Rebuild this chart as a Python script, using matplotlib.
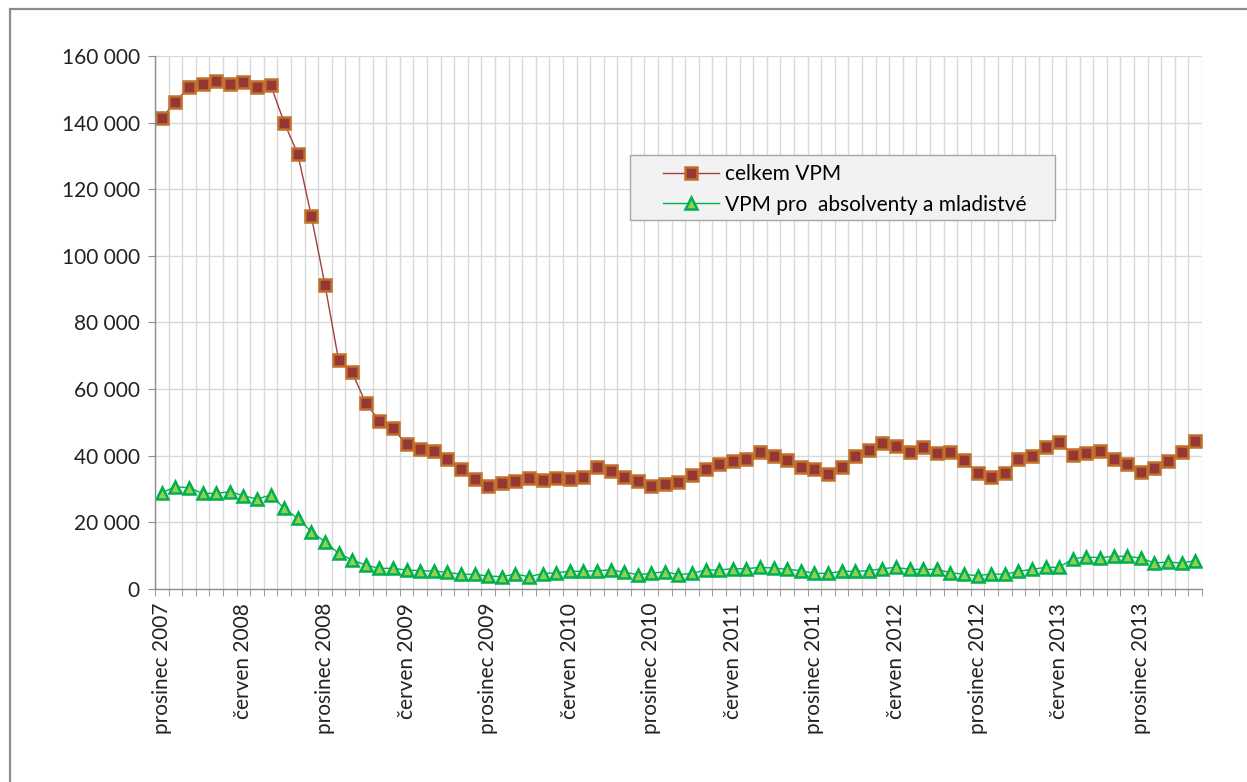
import numpy as np
import matplotlib.pyplot as plt
from matplotlib.patches import Rectangle

# ==========================================
# DATA (monthly, prosinec 2007 - duben 2014)
# ==========================================

months = ["leden", "únor", "březen", "duben", "květen", "červen",
          "červenec", "srpen", "září", "říjen", "listopad", "prosinec"]

celkem_vpm = [
    141300, 146300, 150600, 151700, 152600, 151700, 152100, 150600, 151400,
    140000, 130600, 111900, 91300, 68700, 65000, 55800, 50500, 48200,
    43400, 42000, 41400, 39100, 36000, 32900, 30900, 31700, 32300,
    33300, 32800, 33300, 32900, 33700, 36700, 35300, 33700, 32500,
    31000, 31400, 32200, 34100, 36100, 37500, 38500, 39100, 41100,
    39900, 38700, 36700, 35900, 34400, 36700, 39900, 41700, 43700,
    43000, 41000, 42500, 40900, 41000, 38700, 34700, 33500, 34900,
    39000, 39900, 42500, 44000, 40100, 40700, 41400, 39000, 37500,
    35200, 36400, 38400, 41000, 44400
]

absolventi_vpm = [
    28900, 30700, 30400, 28700, 28700, 29200, 28000, 27000, 28200,
    24200, 21200, 17200, 14200, 10700, 8700, 7200, 6200, 6200,
    5700, 5500, 5400, 5000, 4400, 4400, 3900, 3700, 4500,
    3700, 4600, 4900, 5300, 5300, 5500, 5700, 5100, 4300,
    4700, 5200, 4300, 4700, 5700, 5700, 6100, 6100, 6500,
    6300, 5900, 5500, 4700, 4700, 5300, 5300, 5500, 6100,
    6500, 5900, 5900, 5900, 4900, 4400, 4000, 4500, 4400,
    5300, 5900, 6500, 6500, 9100, 9600, 9400, 9800, 9800,
    9300, 7800, 8100, 7800, 8500
]

# category labels
labels = []
for i in range(len(celkem_vpm)):
    m = (11 + i) % 12
    y = 2007 + (11 + i) // 12
    labels.append(f"{months[m]} {y}")

# ==========================================
# PLOT
# ==========================================

plt.rcParams["font.family"] = ["Lato", "DejaVu Sans"]
FS = 15

fig = plt.figure(figsize=(12.47, 7.82), dpi=100)
ax = fig.add_axes([0.1243, 0.2468, 0.8396, 0.6816])

# outer chart border
fig.patches.append(Rectangle(
    (10 / 1247, -0.1), 1.2, 1.1 - 9 / 782,
    transform=fig.transFigure,
    fill=False,
    edgecolor="#8c8c8c",
    linewidth=1.6
))

x = np.arange(len(celkem_vpm))

ax.plot(
    x, celkem_vpm,
    color="#a0403c", linewidth=1.0,
    marker="s", markersize=8.5,
    markerfacecolor="#953735", markeredgecolor="#c0702a",
    markeredgewidth=1.8,
    label="celkem VPM"
)

ax.plot(
    x, absolventi_vpm,
    color="#00b050", linewidth=1.0,
    marker="^", markersize=9,
    markerfacecolor="#92d050", markeredgecolor="#00b050",
    markeredgewidth=1.8,
    label="VPM pro  absolventy a mladistvé"
)

ax.set_xlim(-0.5, len(x) - 0.5)
ax.set_ylim(0, 160000)

ax.set_yticks(np.arange(0, 160001, 20000))
ax.set_yticklabels([f"{v:,}".replace(",", " ") for v in range(0, 160001, 20000)])

ax.set_xticks(x[::6])
ax.set_xticklabels(labels[::6], rotation=90)
ax.set_xticks(np.arange(-0.5, len(x), 1), minor=True)

ax.tick_params(axis="x", which="major", length=0, pad=10, labelsize=FS, colors="#222222")
ax.tick_params(axis="x", which="minor", length=5, color="#8c8c8c", direction="out")
ax.tick_params(axis="y", length=5, labelsize=FS, colors="#222222", pad=6)
ax.tick_params(axis="y", color="#8c8c8c")

ax.grid(True, axis="y", color="#d9d9d9", linewidth=1.0)
ax.grid(True, axis="x", which="minor", color="#d9d9d9", linewidth=1.0)
ax.set_axisbelow(True)

for s in ["top", "right"]:
    ax.spines[s].set_visible(False)
for s in ["left", "bottom"]:
    ax.spines[s].set_color("#8c8c8c")
    ax.spines[s].set_linewidth(1.0)

# legend box drawn by hand so the left padding matches
ax.add_patch(Rectangle(
    (0.4537, 0.6923), 0.406, 0.122,
    transform=ax.transAxes,
    facecolor="#f2f2f2",
    edgecolor="#a6a6a6",
    linewidth=1.0,
    zorder=4
))

leg = ax.legend(
    loc="upper left",
    bbox_to_anchor=(0.485, 0.797),
    fontsize=FS,
    frameon=False,
    handlelength=2.7,
    handletextpad=0.3,
    borderpad=0,
    borderaxespad=0,
    labelspacing=0.5
)
leg.set_zorder(5)

plt.savefig("out.png", dpi=100)
plt.close()
